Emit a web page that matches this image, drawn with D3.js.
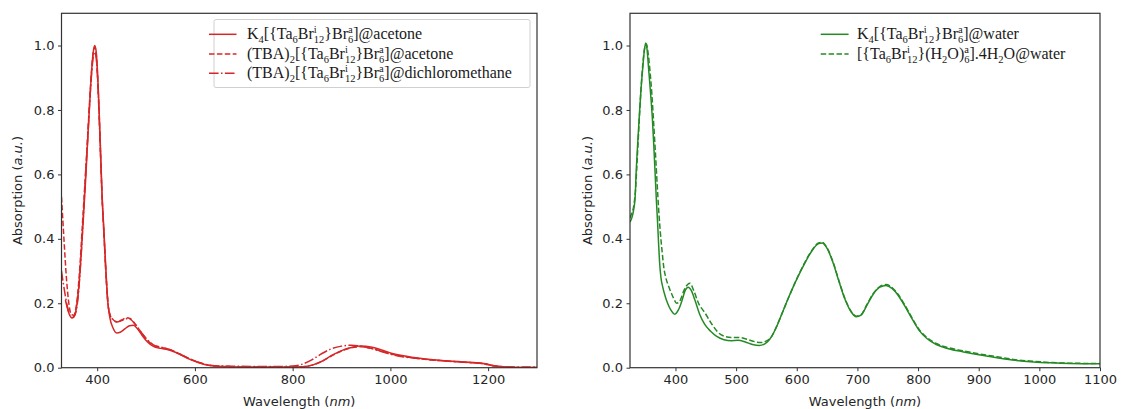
<!DOCTYPE html>
<html><head><meta charset="utf-8">
<script src="https://cdn.jsdelivr.net/npm/d3@7"></script>
<style>html,body{margin:0;padding:0;background:#fff;}svg{display:block;}</style>
</head><body>
<svg id="c" width="1126" height="409"></svg>
<script>
// ---------- DATA ----------
const leftXTicks = [400, 600, 800, 1000, 1200];
const rightXTicks = [400, 500, 600, 700, 800, 900, 1000, 1100];
const yTicks = [0, 0.2, 0.4, 0.6, 0.8, 1.0];

const leftLabels = [
  "K_{4}[{Ta_{6}Br^{i}_{12}}Br^{a}_{6}]@acetone",
  "(TBA)_{2}[{Ta_{6}Br^{i}_{12}}Br^{a}_{6}]@acetone",
  "(TBA)_{2}[{Ta_{6}Br^{i}_{12}}Br^{a}_{6}]@dichloromethane"
];
const rightLabels = [
  "K_{4}[{Ta_{6}Br^{i}_{12}}Br^{a}_{6}]@water",
  "[{Ta_{6}Br^{i}_{12}}(H_{2}O)^{a}_{6}].4H_{2}O@water"
];

// [wavelength nm, absorption a.u.]
const k4Acetone = [[335,0.21],[342,0.17],[348,0.155],[353,0.16],[358,0.19],[363,0.26],[368,0.37],[372,0.47],[377,0.60],[381,0.72],[385,0.83],[389,0.93],[392,0.98],[395,1.0],[398,0.98],[401,0.91],[404,0.80],[407,0.67],[410,0.54],[414,0.42],[418,0.30],[422,0.20],[426,0.155],[432,0.125],[440,0.108],[447,0.11],[456,0.12],[466,0.13],[474,0.132],[482,0.122],[492,0.10],[503,0.08],[515,0.066],[530,0.06],[545,0.056],[560,0.048],[575,0.037],[590,0.026],[605,0.017],[620,0.01],[640,0.005],[670,0.003],[720,0.002],[780,0.002],[820,0.003],[840,0.008],[860,0.02],[880,0.038],[900,0.053],[920,0.063],[940,0.067],[960,0.064],[980,0.056],[1000,0.046],[1030,0.036],[1060,0.029],[1100,0.023],[1140,0.019],[1170,0.016],[1195,0.012],[1210,0.007],[1230,0.003],[1260,0.001],[1300,0.001]];
const tbaAcetone = [[327,0.53],[332,0.40],[337,0.28],[342,0.20],[347,0.165],[352,0.163],[358,0.20],[364,0.30],[370,0.45],[376,0.60],[381,0.73],[385,0.84],[389,0.93],[392,0.98],[395,0.995],[398,0.975],[401,0.90],[404,0.79],[407,0.66],[410,0.53],[414,0.41],[418,0.29],[422,0.20],[426,0.165],[432,0.15],[440,0.143],[450,0.148],[460,0.155],[468,0.152],[478,0.135],[490,0.11],[503,0.085],[515,0.07],[530,0.063],[545,0.058],[560,0.049],[575,0.038],[590,0.027],[605,0.018],[620,0.011],[640,0.005],[670,0.003],[720,0.002],[780,0.002],[820,0.003],[840,0.008],[860,0.02],[880,0.037],[900,0.052],[920,0.062],[940,0.065],[960,0.06],[980,0.052],[1000,0.043],[1030,0.034],[1060,0.028],[1100,0.022],[1140,0.018],[1170,0.015],[1195,0.011],[1210,0.006],[1230,0.003],[1260,0.001],[1300,0.001]];
const tbaDcm = [[327,0.30],[333,0.24],[339,0.19],[345,0.16],[350,0.155],[355,0.165],[361,0.22],[366,0.32],[371,0.45],[376,0.59],[381,0.72],[385,0.83],[389,0.92],[392,0.965],[395,0.98],[398,0.96],[401,0.89],[404,0.78],[407,0.65],[410,0.53],[414,0.41],[418,0.29],[422,0.20],[426,0.165],[432,0.15],[440,0.142],[450,0.146],[460,0.152],[468,0.15],[478,0.134],[490,0.11],[503,0.086],[515,0.071],[530,0.064],[545,0.058],[560,0.049],[575,0.038],[590,0.027],[605,0.018],[620,0.011],[640,0.006],[670,0.005],[720,0.004],[780,0.004],[800,0.005],[820,0.011],[840,0.025],[860,0.044],[880,0.059],[900,0.067],[920,0.07],[940,0.067],[960,0.06],[980,0.051],[1000,0.042],[1030,0.033],[1060,0.028],[1100,0.022],[1140,0.018],[1170,0.015],[1195,0.011],[1210,0.006],[1230,0.003],[1260,0.002],[1300,0.002]];

const k4Water = [[325,0.452],[328,0.465],[331,0.49],[333.5,0.53],[335,0.6],[337.5,0.69],[340,0.77],[343,0.86],[346,0.93],[349,0.99],[351,1.008],[353,0.99],[355.6,0.93],[359,0.85],[362,0.77],[364.5,0.68],[366.5,0.6],[368.5,0.52],[370.5,0.45],[372,0.39],[373.7,0.33],[376,0.28],[379,0.25],[383,0.222],[387,0.2],[392,0.18],[399,0.166],[405,0.18],[411,0.21],[416,0.24],[421,0.25],[426,0.24],[432,0.21],[440,0.165],[448,0.135],[458,0.113],[468,0.097],[480,0.087],[492,0.084],[503,0.085],[515,0.08],[527,0.072],[538,0.069],[548,0.075],[556,0.09],[565,0.12],[575,0.165],[587,0.22],[600,0.275],[612,0.32],[624,0.36],[636,0.385],[642,0.387],[650,0.37],[660,0.325],[670,0.265],[680,0.21],[690,0.172],[698,0.158],[706,0.163],[716,0.195],[726,0.228],[737,0.25],[747,0.255],[757,0.246],[767,0.225],[778,0.192],[790,0.152],[802,0.115],[815,0.09],[830,0.072],[850,0.059],[875,0.049],[900,0.04],[930,0.031],[960,0.023],[990,0.018],[1020,0.015],[1050,0.013],[1100,0.012]];
const aquaWater = [[325,0.465],[328,0.48],[331,0.5],[334,0.55],[337,0.65],[340,0.76],[343,0.86],[346,0.94],[349,0.99],[352,1.005],[355,0.975],[358,0.92],[361,0.85],[364,0.76],[366.5,0.68],[368.6,0.61],[371,0.53],[373,0.47],[375,0.42],[378,0.36],[380.6,0.313],[384,0.28],[389,0.251],[393,0.232],[397,0.215],[402,0.2],[408,0.21],[414,0.24],[420,0.258],[424,0.262],[430,0.24],[438,0.2],[449,0.169],[460,0.135],[470,0.11],[480,0.098],[492,0.094],[503,0.094],[515,0.09],[528,0.082],[541,0.078],[550,0.083],[558,0.095],[566,0.125],[575,0.165],[587,0.22],[600,0.276],[612,0.322],[624,0.362],[636,0.387],[642,0.389],[650,0.372],[660,0.327],[670,0.267],[680,0.212],[690,0.174],[698,0.16],[706,0.165],[716,0.197],[726,0.23],[737,0.252],[747,0.258],[757,0.249],[767,0.228],[778,0.195],[790,0.155],[802,0.118],[815,0.093],[830,0.075],[850,0.062],[875,0.052],[900,0.043],[930,0.034],[960,0.025],[990,0.02],[1020,0.016],[1050,0.014],[1100,0.013]];

// ---------- STYLE ----------
const RED = "#d62728", GREEN = "#258a25";
const DASH = "5.5,2.4", DASHDOT = "9.6,2.4,1.5,2.4";
const svg = d3.select("#c");
const tickFont = "DejaVu Sans, sans-serif";

function panel(cfg) {
  const x = d3.scaleLinear().domain(cfg.xdom).range([cfg.x0, cfg.x1]);
  const y = d3.scaleLinear().domain([0, 1.1]).range([367.7, 13.3]);
  const g = svg.append("g");
  const clipId = "clip" + cfg.id;
  svg.append("clipPath").attr("id", clipId).append("rect")
    .attr("x", cfg.x0).attr("y", 13.3).attr("width", cfg.x1 - cfg.x0).attr("height", 367.7 - 13.3);
  const line = d3.line().x(d => x(d[0])).y(d => y(d[1])).curve(d3.curveMonotoneX);
  const pl = g.append("g").attr("clip-path", `url(#${clipId})`);
  cfg.series.forEach(s => {
    pl.append("path").attr("d", line(s.data)).attr("fill", "none")
      .attr("stroke", s.color).attr("stroke-width", 1.5)
      .attr("stroke-dasharray", s.dash || null).attr("stroke-linejoin", "round");
  });
  // axes
  const xa = g.append("g").attr("transform", "translate(0,367.7)")
    .call(d3.axisBottom(x).tickValues(cfg.xticks).tickSize(3.5).tickPadding(3.5).tickFormat(d3.format("d")));
  const ya = g.append("g").attr("transform", `translate(${cfg.x0},0)`)
    .call(d3.axisLeft(y).tickValues(yTicks).tickSize(3.5).tickPadding(3.5).tickFormat(d3.format(".1f")));
  [xa, ya].forEach(a => {
    a.select(".domain").remove();
    a.selectAll(".tick line").attr("stroke", "#333").attr("stroke-width", 1);
    a.selectAll(".tick text").attr("fill", "#262626").style("font-family", tickFont).style("font-size", "13px");
  });
  // frame
  g.append("rect").attr("x", cfg.x0).attr("y", 13.3).attr("width", cfg.x1 - cfg.x0).attr("height", 367.7 - 13.3)
    .attr("fill", "none").attr("stroke", "#333").attr("stroke-width", 1.2);
  // titles
  const xt = g.append("text").attr("x", (cfg.x0 + cfg.x1) / 2).attr("y", 406).attr("text-anchor", "middle")
    .style("font-family", tickFont).style("font-size", "13px").attr("fill", "#262626");
  xt.append("tspan").text("Wavelength (");
  xt.append("tspan").style("font-style", "italic").text("nm");
  xt.append("tspan").text(")");
  const yt = g.append("text").attr("transform", `translate(${cfg.ytx},190.5) rotate(-90)`).attr("text-anchor", "middle")
    .attr("dy", "0.35em").style("font-family", tickFont).style("font-size", "13px").attr("fill", "#262626");
  yt.append("tspan").text("Absorption (");
  yt.append("tspan").style("font-style", "italic").text("a.u.");
  yt.append("tspan").text(")");
  // legend
  const lg = g.append("g");
  if (cfg.legendBox) {
    const b = cfg.legendBox;
    lg.append("rect").attr("x", b[0]).attr("y", b[1]).attr("width", b[2] - b[0]).attr("height", b[3] - b[1])
      .attr("rx", 2).attr("fill", "#fff").attr("fill-opacity", 0.8).attr("stroke", "#d0d0d0").attr("stroke-width", 1);
  }
  cfg.series.forEach((s, i) => {
    const yy = cfg.legY[i];
    lg.append("line").attr("x1", cfg.legLine[0]).attr("x2", cfg.legLine[1]).attr("y1", yy).attr("y2", yy)
      .attr("stroke", s.color).attr("stroke-width", 1.5).attr("stroke-dasharray", s.dash || null);
    richText(lg, cfg.legText, yy + 5, s.label);
  });
}

function parseLabel(str) {
  const toks = [];
  let i = 0, buf = "";
  while (i < str.length) {
    const c = str[i];
    if ((c === "_" || c === "^") && str[i + 1] === "{") {
      if (buf) { toks.push({ t: buf, k: "n" }); buf = ""; }
      const end = str.indexOf("}", i + 2);
      const kind = c === "_" ? "sub" : "sup";
      const prev = toks[toks.length - 1];
      toks.push({ t: str.slice(i + 2, end), k: kind, stack: kind === "sub" && prev && prev.k === "sup" });
      i = end + 1;
    } else { buf += c; i++; }
  }
  if (buf) toks.push({ t: buf, k: "n" });
  return toks;
}

function richText(parent, x, y, label) {
  const FS = 16, SS = 10.5, SUB = 4, SUP = -6.5;
  const t = parent.append("text").attr("x", x).attr("y", y)
    .style("font-family", "Liberation Serif, 'Times New Roman', serif").style("font-size", FS + "px").attr("fill", "#1a1a1a");
  let off = 0, lastSupLen = 0;
  parseLabel(label).forEach(tok => {
    const target = tok.k === "sub" ? SUB : tok.k === "sup" ? SUP : 0;
    const ts = t.append("tspan").text(tok.t).attr("dy", target - off);
    if (tok.k !== "n") ts.style("font-size", SS + "px");
    if (tok.stack) ts.attr("dx", -lastSupLen);
    off = target;
    if (tok.k === "sup") lastSupLen = ts.node().getComputedTextLength();
  });
}

panel({
  id: "L", xdom: [327, 1300], x0: 61.5, x1: 537, xticks: leftXTicks, ytx: 17,
  series: [
    { data: k4Acetone, color: RED, dash: null, label: leftLabels[0] },
    { data: tbaAcetone, color: RED, dash: DASH, label: leftLabels[1] },
    { data: tbaDcm, color: RED, dash: DASHDOT, label: leftLabels[2] }
  ],
  legendBox: [214, 19.5, 530, 87.5], legLine: [209, 236.5], legText: 247, legY: [34.3, 54, 73.3]
});
panel({
  id: "R", xdom: [325, 1100], x0: 630, x1: 1100, xticks: rightXTicks, ytx: 587,
  series: [
    { data: k4Water, color: GREEN, dash: null, label: rightLabels[0] },
    { data: aquaWater, color: GREEN, dash: DASH, label: rightLabels[1] }
  ],
  legendBox: null, legLine: [820.7, 848.6], legText: 857, legY: [34.3, 54]
});
</script>
</body></html>
